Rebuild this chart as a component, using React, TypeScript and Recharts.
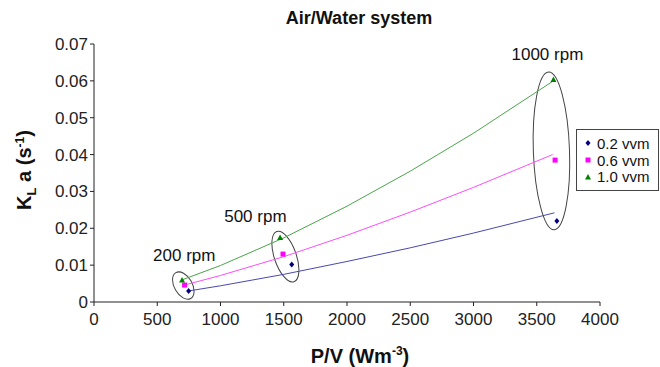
import {
  ReferenceArea, Scatter, ScatterChart, XAxis, YAxis, Legend,
} from "recharts";

// P/V (W m^-3) ticks and kLa (s^-1) ticks
const PV_TICKS = [0, 500, 1000, 1500, 2000, 2500, 3000, 3500, 4000];
const KLA_TICKS = [0, 0.01, 0.02, 0.03, 0.04, 0.05, 0.06, 0.07];

const SERIES_NAMES = ["0.2 vvm", "0.6 vvm", "1.0 vvm"];

// measured points (200, 500, 1000 rpm)
const PV_02 = [748, 1563, 3659];
const KLA_02 = [0.003, 0.0102, 0.022];
const PV_06 = [716, 1494, 3645];
const KLA_06 = [0.0046, 0.013, 0.0385];
const PV_10 = [696, 1471, 3632];
const KLA_10 = [0.006, 0.0175, 0.0604];

// trend lines
const FIT_PV_02 = [748, 1000, 1500, 2000, 2500, 3000, 3640];
const FIT_KLA_02 = [0.003, 0.0044, 0.0075, 0.011, 0.0147, 0.0187, 0.0242];
const FIT_PV_06 = [716, 1000, 1500, 2000, 2500, 3000, 3625];
const FIT_KLA_06 = [0.0046, 0.0072, 0.0123, 0.0181, 0.0244, 0.0311, 0.04];
const FIT_PV_10 = [696, 1000, 1500, 2000, 2500, 3000, 3632];
const FIT_KLA_10 = [0.006, 0.0099, 0.0174, 0.026, 0.0355, 0.0458, 0.06];

// speed groups (circled on the chart)
const RPM_LABELS = ["200 rpm", "500 rpm", "1000 rpm"];
const GROUP_PV_MIN = [635, 1426, 3473];
const GROUP_PV_MAX = [777, 1600, 3759];
const GROUP_KLA_MIN = [0.0004, 0.0051, 0.0196];
const GROUP_KLA_MAX = [0.0085, 0.0195, 0.0624];

const FONT = "'Liberation Sans', Arial, sans-serif";
const POINT_COLORS = ["#000080", "#ff00ff", "#008000"];
const LINE_COLORS = ["#4848b0", "#ff4cff", "#4aa64a"];
const GROUP_TILT = [-30, -19, -2];
const GROUP_LABEL_SHIFT = [[1, -10], [-30, -8], [-4, -12]];

const zip = (xs: number[], ys: number[]) => xs.map((x, i) => ({ x, y: ys[i] }));

const points = [zip(PV_02, KLA_02), zip(PV_06, KLA_06), zip(PV_10, KLA_10)];
const fits = [zip(FIT_PV_02, FIT_KLA_02), zip(FIT_PV_06, FIT_KLA_06), zip(FIT_PV_10, FIT_KLA_10)];

function marker(kind: number, cx: number, cy: number, color: string) {
  if (kind === 0)
    return <polygon points={`${cx},${cy - 3} ${cx + 2.5},${cy} ${cx},${cy + 3} ${cx - 2.5},${cy}`} fill={color} />;
  if (kind === 1) return <rect x={cx - 2.5} y={cy - 2.5} width={5} height={5} fill={color} />;
  return <polygon points={`${cx},${cy - 3} ${cx + 3},${cy + 2.5} ${cx - 3},${cy + 2.5}`} fill={color} />;
}

function LegendBox() {
  return (
    <div style={{
      border: "1px solid #444", background: "#fff", boxSizing: "border-box",
      width: 83, height: 62, padding: "5px 0 0 6px", fontFamily: FONT, fontSize: 15,
    }}>
      {SERIES_NAMES.map((n, i) => (
        <div key={n} style={{ display: "flex", alignItems: "center", height: 16.7 }}>
          <svg width={10} height={10}>{marker(i, 5, 5, POINT_COLORS[i])}</svg>
          <span style={{ marginLeft: 4, color: "#111" }}>{n}</span>
        </div>
      ))}
    </div>
  );
}

export default function App() {
  return (
    <div style={{ position: "absolute", left: 0, top: 0, width: 660, height: 367, background: "#fff", fontFamily: FONT }}>
      <ScatterChart width={660} height={367} margin={{ top: 44, right: 60, bottom: 0, left: 0 }}>
        <XAxis
          type="number" dataKey="x" domain={[0, 4000]} ticks={PV_TICKS} interval={0}
          height={65} tickSize={4} tickMargin={7} stroke="#222"
          tick={{ fontSize: 17, fill: "#222", fontFamily: FONT }}
        />
        <YAxis
          type="number" dataKey="y" domain={[0, 0.07]} ticks={KLA_TICKS} interval={0}
          width={94} tickSize={4} tickMargin={2} stroke="#222"
          tick={{ fontSize: 17, fill: "#222", fontFamily: FONT }}
          tickFormatter={(v: number) => (v === 0 ? "0" : v.toFixed(2))}
        />
        {RPM_LABELS.map((lab, i) => (
          <ReferenceArea
            key={lab}
            x1={GROUP_PV_MIN[i]} x2={GROUP_PV_MAX[i]}
            y1={GROUP_KLA_MIN[i]} y2={GROUP_KLA_MAX[i]}
            shape={(p: any) => {
              const cx = p.x + p.width / 2;
              const cy = p.y + p.height / 2;
              return (
                <ellipse cx={cx} cy={cy} rx={p.width / 2} ry={p.height / 2}
                  transform={`rotate(${GROUP_TILT[i]} ${cx} ${cy})`}
                  fill="none" stroke="#444" strokeWidth={1} />
              );
            }}
            label={{
              content: (props: any) => {
                const vb = props.viewBox;
                return (
                  <text x={vb.x + vb.width / 2 + GROUP_LABEL_SHIFT[i][0]} y={vb.y + GROUP_LABEL_SHIFT[i][1]}
                    textAnchor="middle" fontSize={17} fontFamily={FONT} fill="#111">{lab}</text>
                );
              },
            }}
          />
        ))}
        {fits.map((d, i) => (
          <Scatter key={"fit" + i} data={d} legendType="none" isAnimationActive={false}
            line={{ stroke: LINE_COLORS[i], strokeWidth: 1 }} lineType="joint"
            shape={() => <g />} />
        ))}
        {points.map((d, i) => (
          <Scatter key={SERIES_NAMES[i]} name={SERIES_NAMES[i]} data={d} fill={POINT_COLORS[i]}
            isAnimationActive={false}
            shape={(p: any) => marker(i, p.cx, p.cy, POINT_COLORS[i])} />
        ))}
        <Legend layout="vertical" align="center" verticalAlign="middle"
          wrapperStyle={{ left: 576, top: 129, width: 83, height: 62 }}
          content={() => <LegendBox />} />
      </ScatterChart>
      <div style={{ position: "absolute", left: 259, width: 200, top: 8, textAlign: "center", fontSize: 18, fontWeight: "bold", lineHeight: "20px", color: "#111" }}>
        Air/Water system
      </div>
      <div style={{ position: "absolute", left: 260, width: 200, top: 340, textAlign: "center", fontSize: 20, fontWeight: "bold", lineHeight: "22px", color: "#111" }}>
        P/V (Wm<sup style={{ fontSize: 12 }}>-3</sup>)
      </div>
      <div style={{
        position: "absolute", left: 26, top: 170, transform: "translate(-50%, -50%) rotate(-90deg)",
        whiteSpace: "nowrap", fontSize: 20, fontWeight: "bold", lineHeight: "22px", color: "#111",
      }}>
        K<sub style={{ fontSize: 13 }}>L</sub> a (s<sup style={{ fontSize: 12 }}>-1</sup>)
      </div>
    </div>
  );
}
